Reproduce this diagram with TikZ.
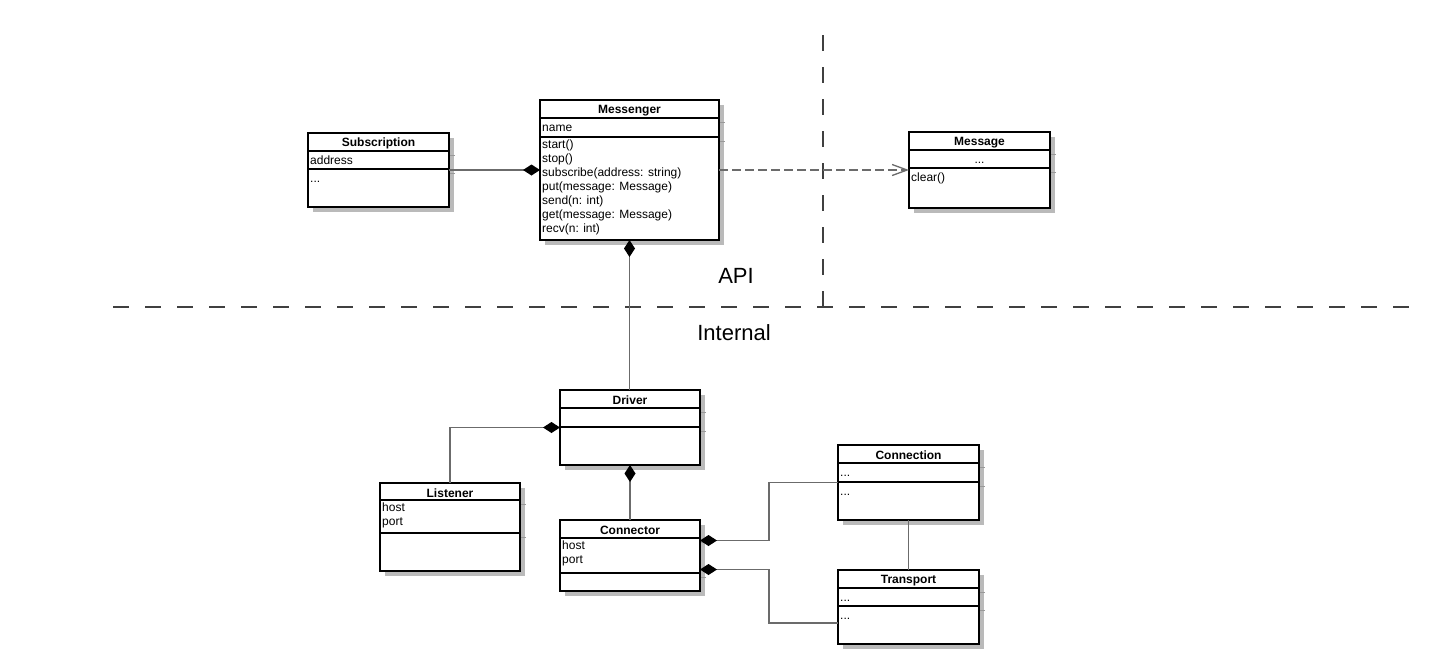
\documentclass[tikz,border=0pt]{standalone}
\usepackage{fontspec}
\setmainfont{Liberation Sans}
\usetikzlibrary{arrows.meta,shadows}
\tikzset{
  every picture/.style={line join=miter, >=Stealth},
  classbox/.style={draw=black, line width=2pt, fill=white, outer sep=0pt, inner sep=0pt,
    drop shadow={shadow xshift=5pt, shadow yshift=-5pt, opacity=1, fill=black!27}},
  classrule/.style={draw=black, line width=1.6pt},
  shadowrule/.style={draw=black!40, line width=0.8pt},
  classtitle/.style={font=\fontsize{12}{14}\selectfont\bfseries, inner sep=0pt},
  classtext/.style={anchor=north west, align=left, inner xsep=2pt, inner ysep=3pt,
    font=\fontsize{12}{14}\selectfont, execute at begin node=\strut},
  comp/.style={draw=black!58, line width=1.6pt, {Diamond[length=17pt, width=11pt, color=black, fill=black]}-},
  depend/.style={draw=black!58, line width=1.3pt, dash pattern=on 9pt off 4pt, -{Straight Barb[length=15pt, width=11pt]}},
  divider/.style={draw=black!75, line width=2.5pt, dash pattern=on 16pt off 16pt},
  layer/.style={font=\fontsize{22}{26}\selectfont},
}
% box, rules and title of one class: name, x1, y1, x2, y2, rule 1, rule 2, title
\newcommand{\umlclass}[8]{%
  \node[classbox, minimum width={(#4-#2)*1pt}, minimum height={(#5-#3)*1pt}] (#1) at ({(#2+#4)/2},{(#3+#5)/2}) {};
  \draw[classrule] (#1.west |- 0,#6) -- (#1.east |- 0,#6);
  \draw[classrule] (#1.west |- 0,#7) -- (#1.east |- 0,#7);
  \draw[shadowrule] (#4+1,#6+4) -- ++(5,0) (#4+1,#7+4) -- ++(5,0);
  \node[classtitle] (#1-title) at ({(#2+#4)/2},{(#3+#6)/2+1.5}) {#8};
}

\begin{document}
\begin{tikzpicture}[x=1pt, y=-1pt]
\fill[white] (0,0) rectangle (1435,665);
\useasboundingbox (0,0) rectangle (1435,665);

% API / Internal
\coordinate (hdivl) at (113,307);
\coordinate (hdivr) at (1410,307);
\coordinate (vdivt) at (823,35);
\draw[divider] (vdivt) -- (vdivt |- hdivl);
\draw[divider] (hdivl) -- (hdivr);
\node[layer] (api) at (736,276) {API};
\node[layer] (internal) at (734,333) {Internal};

% classes
\umlclass{msgr}{540}{100}{719}{240}{118}{137}{Messenger}
\umlclass{subs}{308}{133}{449}{207}{151}{169}{Subscription}
\umlclass{msg}{909}{132}{1050}{208}{150}{168}{Message}
\umlclass{drv}{560}{390}{700}{465}{408}{427}{Driver}
\umlclass{lst}{380}{483}{520}{571}{500}{533}{Listener}
\umlclass{con}{560}{520}{700}{591}{538}{573}{Connector}
\umlclass{cnn}{838}{445}{979}{520}{463}{482}{Connection}
\umlclass{trn}{838}{570}{979}{644}{588}{606}{Transport}

\node[classtext] (msgr-attr) at (msgr.west |- 0,118) {name};
\node[classtext] (msgr-ops) at (msgr.west |- 0,137) {start()\\stop()\\subscribe(address: string)\\put(message: Message)\\send(n: int)\\get(message: Message)\\recv(n: int)};
\node[classtext] (subs-attr) at (subs.west |- 0,151) {address};
\node[classtext] (subs-ops) at (subs.west |- 0,169) {...};
\node[classtext, anchor=north] (msg-attr) at (msg.north |- 0,150) {...};
\node[classtext] (msg-ops) at (msg.west |- 0,168) {clear()};
\node[classtext] (lst-attr) at (lst.west |- 0,500) {host\\port};
\node[classtext] (con-attr) at (con.west |- 0,538) {host\\port};
\node[classtext] (cnn-attr) at (cnn.west |- 0,463) {...};
\node[classtext] (cnn-ops) at (cnn.west |- 0,482) {...};
\node[classtext] (trn-attr) at (trn.west |- 0,588) {...};
\node[classtext] (trn-ops) at (trn.west |- 0,606) {...};

% links
\draw[comp] (msgr.west) -- (subs.east);
\draw[depend] (msgr.east) -- (msg.west);
\draw[comp] (msgr.south) -- (msgr.south |- drv.north);
\draw[comp] (drv.west) -| (lst.north);
\draw[comp] (drv.south) -- (con.north);
\draw[comp] ([yshift=15pt]con.east) -- ++(69,0) |- (cnn.west);
\draw[comp] ([yshift=-14pt]con.east) -- ++(69,0) |- ([yshift=-16pt]trn.west);
\draw[draw=black!58, line width=1.6pt] (cnn.south) -- (trn.north);
\end{tikzpicture}
\end{document}
